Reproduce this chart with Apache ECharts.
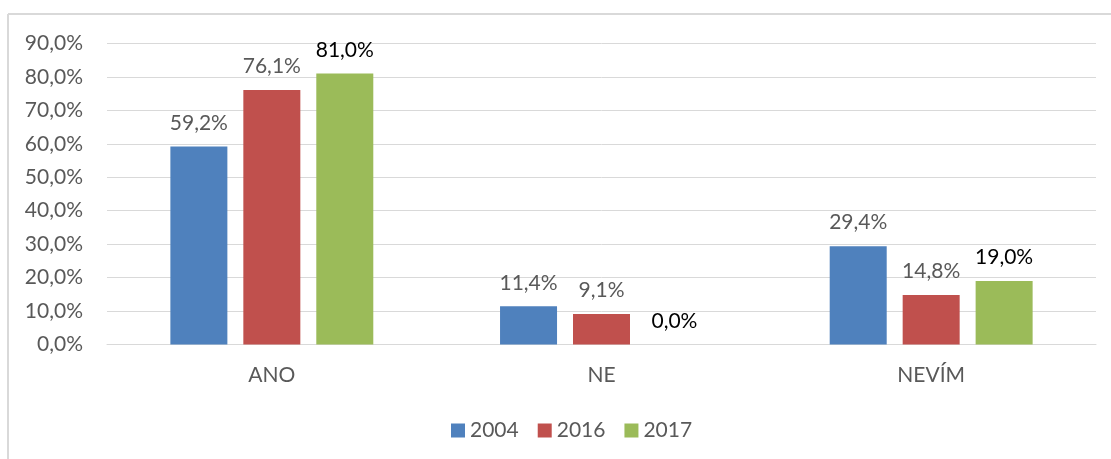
<!DOCTYPE html>
<html>
<head>
<meta charset="utf-8">
<script src="https://cdn.jsdelivr.net/npm/echarts@6/dist/echarts.min.js"></script>
<style>
html,body{margin:0;padding:0;background:#fff;}
#chart{width:1111px;height:459px;}
</style>
</head>
<body>
<div id="chart"></div>
<script>
const categories = ['ANO', 'NE', 'NEVÍM'];
const seriesNames = ['2004', '2016', '2017'];
const values2004 = [59.2, 11.4, 29.4];
const values2016 = [76.1, 9.1, 14.8];
const values2017 = [81.0, 0.0, 19.0];
const colors = ['#4F81BD', '#C0504D', '#9BBB59'];
const labelColors = ['#595959', '#595959', '#000000'];

const FONT = 'Lato';
const FS = 21;
const fmt = v => v.toFixed(1).replace('.', ',') + '%';

const chart = echarts.init(document.getElementById('chart'), null, {renderer: 'canvas'});
const allValues = [values2004, values2016, values2017];

chart.setOption({
  animation: false,
  backgroundColor: '#ffffff',
  textStyle: {fontFamily: FONT},
  graphic: [
    {type: 'line', shape: {x1: 8, y1: 14, x2: 1111, y2: 14}, style: {stroke: '#D9D9D9', lineWidth: 2}},
    {type: 'line', shape: {x1: 8, y1: 14, x2: 8, y2: 459}, style: {stroke: '#D9D9D9', lineWidth: 2}}
  ],
  grid: {left: 107, right: 15, top: 43.5, bottom: 114.5, containLabel: false},
  legend: {
    data: seriesNames,
    left: 451,
    top: 420,
    padding: 0,
    icon: 'rect',
    itemWidth: 14,
    itemHeight: 14,
    itemGap: 19,
    textStyle: {fontFamily: FONT, fontSize: FS, color: '#595959'}
  },
  xAxis: {
    type: 'category',
    data: categories,
    axisLine: {show: true, lineStyle: {color: '#D9D9D9', width: 1}},
    axisTick: {show: false},
    axisLabel: {fontFamily: FONT, fontSize: FS, color: '#595959', margin: 20}
  },
  yAxis: {
    type: 'value',
    min: 0,
    max: 90,
    interval: 10,
    axisLine: {show: false},
    axisTick: {show: false},
    splitLine: {lineStyle: {color: '#D9D9D9', width: 1}},
    axisLabel: {fontFamily: FONT, fontSize: FS, color: '#595959', margin: 24, formatter: v => fmt(v)}
  },
  series: seriesNames.map((name, i) => ({
    name: name,
    type: 'bar',
    data: allValues[i],
    barWidth: 57,
    barGap: '28%',
    itemStyle: {color: colors[i]},
    label: {
      show: true,
      position: 'top',
      distance: 13,
      fontFamily: FONT,
      fontSize: FS,
      color: labelColors[i],
      formatter: p => fmt(p.value)
    }
  }))
});
</script>
</body>
</html>
